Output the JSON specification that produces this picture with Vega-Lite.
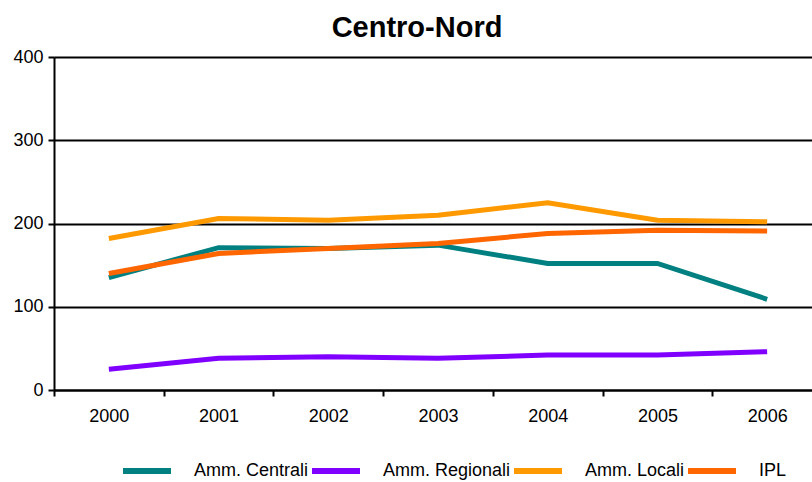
{
  "$schema": "https://vega.github.io/schema/vega-lite/v6.json",
  "width": 758,
  "height": 333,
  "autosize": "none",
  "padding": {"left": 54, "top": 57, "right": 0, "bottom": 92},
  "background": "white",
  "config": {"font": "Liberation Sans", "view": {"stroke": null}},
  "title": {
    "text": "Centro-Nord",
    "font": "Liberation Sans",
    "fontSize": 29,
    "fontWeight": "bold",
    "color": "black",
    "anchor": "middle",
    "dx": -16,
    "offset": 5
  },
  "data": {
    "values": [
      {"year": "2000", "series": "Amm. Centrali", "value": 135},
      {"year": "2001", "series": "Amm. Centrali", "value": 171},
      {"year": "2002", "series": "Amm. Centrali", "value": 170},
      {"year": "2003", "series": "Amm. Centrali", "value": 174},
      {"year": "2004", "series": "Amm. Centrali", "value": 152},
      {"year": "2005", "series": "Amm. Centrali", "value": 152},
      {"year": "2006", "series": "Amm. Centrali", "value": 109},
      {"year": "2000", "series": "Amm. Regionali", "value": 25},
      {"year": "2001", "series": "Amm. Regionali", "value": 38},
      {"year": "2002", "series": "Amm. Regionali", "value": 40},
      {"year": "2003", "series": "Amm. Regionali", "value": 38},
      {"year": "2004", "series": "Amm. Regionali", "value": 42},
      {"year": "2005", "series": "Amm. Regionali", "value": 42},
      {"year": "2006", "series": "Amm. Regionali", "value": 46},
      {"year": "2000", "series": "Amm. Locali", "value": 182},
      {"year": "2001", "series": "Amm. Locali", "value": 206},
      {"year": "2002", "series": "Amm. Locali", "value": 204},
      {"year": "2003", "series": "Amm. Locali", "value": 210},
      {"year": "2004", "series": "Amm. Locali", "value": 225},
      {"year": "2005", "series": "Amm. Locali", "value": 204},
      {"year": "2006", "series": "Amm. Locali", "value": 202},
      {"year": "2000", "series": "IPL", "value": 140},
      {"year": "2001", "series": "IPL", "value": 164},
      {"year": "2002", "series": "IPL", "value": 170},
      {"year": "2003", "series": "IPL", "value": 176},
      {"year": "2004", "series": "IPL", "value": 188},
      {"year": "2005", "series": "IPL", "value": 192},
      {"year": "2006", "series": "IPL", "value": 191}
    ]
  },
  "mark": {"type": "line", "strokeWidth": 5},
  "encoding": {
    "x": {
      "field": "year",
      "type": "ordinal",
      "scale": {"type": "band", "paddingInner": 0, "paddingOuter": 0, "range": [0, 768]},
      "axis": {
        "title": null,
        "labelAngle": 0,
        "tickBand": "extent",
        "domainColor": "black",
        "domainWidth": 2,
        "tickColor": "black",
        "tickWidth": 2,
        "tickSize": 6,
        "labelFont": "Liberation Sans",
        "labelFontSize": 18,
        "labelColor": "black",
        "labelPadding": 11,
        "grid": false
      }
    },
    "y": {
      "field": "value",
      "type": "quantitative",
      "scale": {"domain": [0, 400]},
      "axis": {
        "title": null,
        "values": [0, 100, 200, 300, 400],
        "grid": true,
        "gridColor": "black",
        "gridWidth": 2,
        "gridOpacity": 1,
        "domainColor": "black",
        "domainWidth": 2,
        "tickColor": "black",
        "tickWidth": 2,
        "tickSize": 6,
        "labelFont": "Liberation Sans",
        "labelFontSize": 18,
        "labelColor": "black",
        "labelPadding": 5
      }
    },
    "color": {
      "field": "series",
      "type": "nominal",
      "scale": {
        "domain": ["Amm. Centrali", "Amm. Regionali", "Amm. Locali", "IPL"],
        "range": ["#008080", "#8000FF", "#FF9900", "#FF6600"]
      },
      "legend": {
        "title": null,
        "orient": "none",
        "legendX": 66,
        "legendY": 387,
        "direction": "horizontal",
        "symbolType": "stroke",
        "symbolStrokeWidth": 6,
        "symbolSize": 2304,
        "labelFont": "Liberation Sans",
        "labelFontSize": 18,
        "labelOffset": 20,
        "columnPadding": -28,
        "labelColor": "black",
        "labelLimit": 0
      }
    }
  }
}
